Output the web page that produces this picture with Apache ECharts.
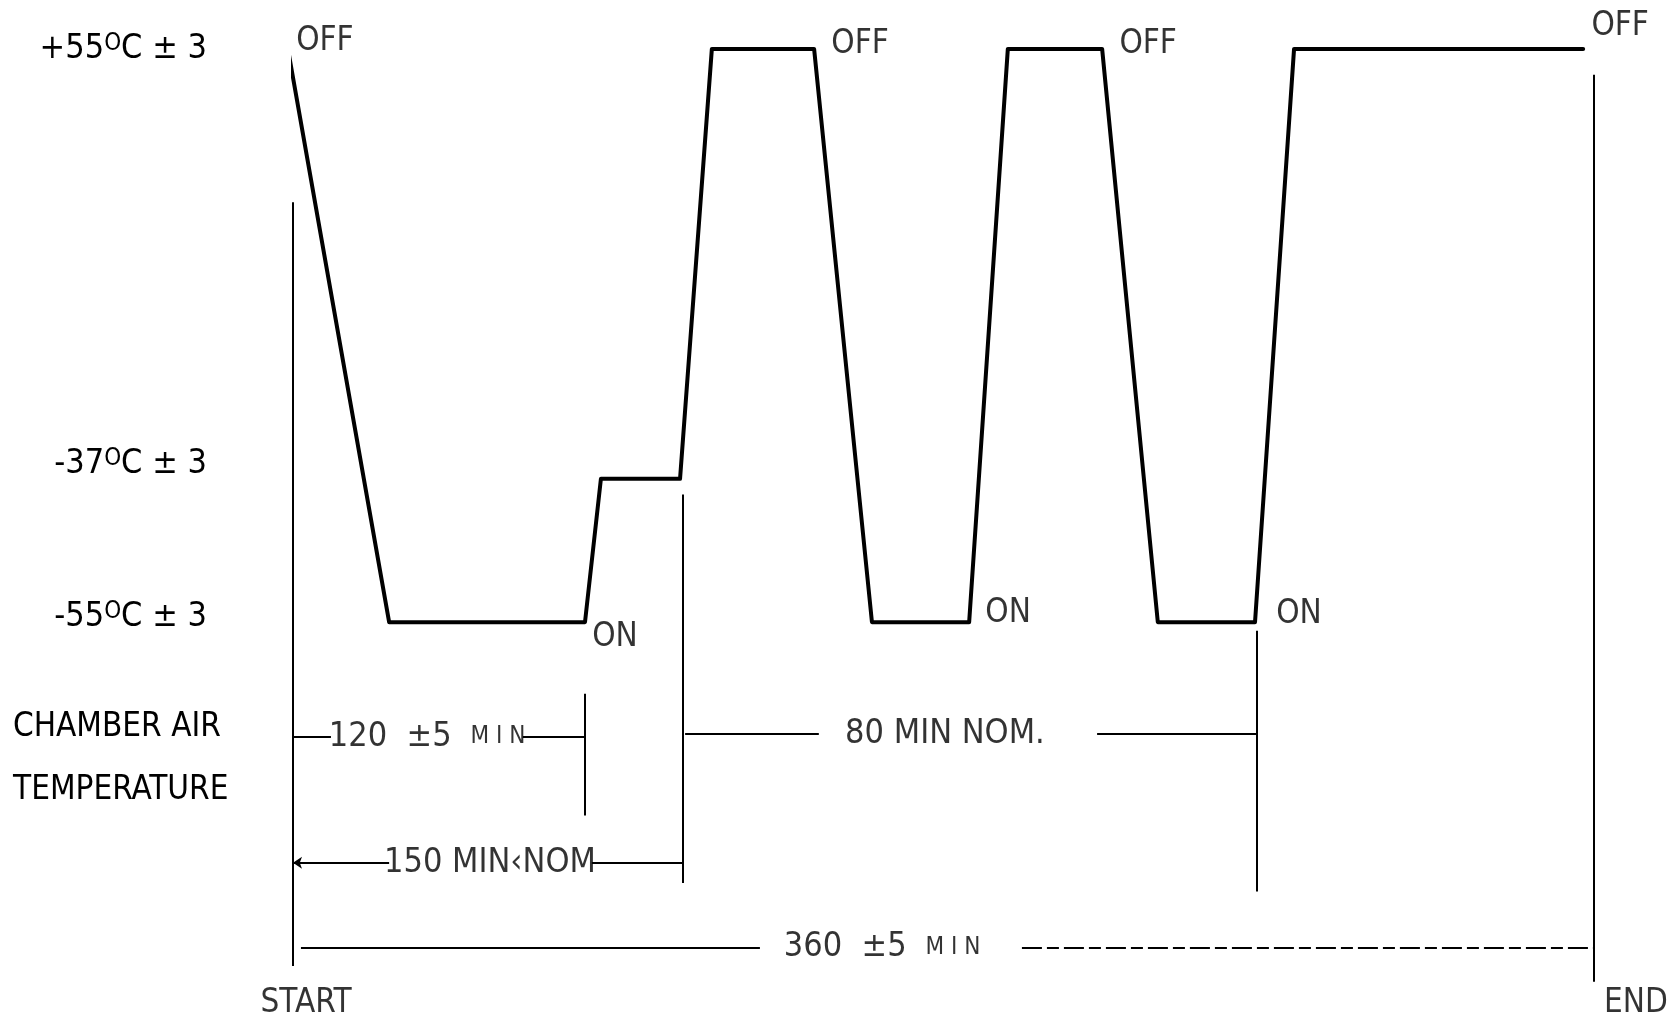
<!DOCTYPE html>
<html>
<head>
<meta charset="utf-8">
<title>Chamber air temperature cycle</title>
<script src="https://cdn.jsdelivr.net/npm/echarts@6.0.0/dist/echarts.min.js"></script>
<style>
  html, body { margin: 0; padding: 0; background: #fff; }
  #chart { width: 1673px; height: 1022px; }
</style>
</head>
<body>
<div id="chart"></div>
<script>
// temperature levels of the drawing, bottom to top (the drawing is not to scale)
const levels = ['-55°C ± 3', '-37°C ± 3', '', '', '+55°C ± 3']

// corners of the profile: minutes from START, level
const profileTime = [-1.4, 26.6, 80.8, 85.2, 107.1, 115.9, 144.2, 160.2, 187.1, 197.8, 223.9, 239.3, 266.2, 277.0, 357.0]
const profileLevel = [
  '+55°C ± 3', '-55°C ± 3', '-55°C ± 3', '-37°C ± 3', '-37°C ± 3',
  '+55°C ± 3', '+55°C ± 3', '-55°C ± 3', '-55°C ± 3', '+55°C ± 3',
  '+55°C ± 3', '-55°C ± 3', '-55°C ± 3', '+55°C ± 3', '+55°C ± 3'
]

// chamber switching, at profile corners
const switchAt = [0, 6, 10, 14, 2, 8, 12]
const switchText = ['OFF', 'OFF', 'OFF', 'OFF', 'ON', 'ON', 'ON']

// time marks (minutes) and dimension notes
const markTime = [0, 80.8, 107.8, 266.8, 360]
const dimText = ['120 ±5 MIN', '150 MIN‹NOM', '80 MIN NOM.', '360 ±5 MIN']

// drawing layout (not data)
const layout = {
  markSpan: [[2.93, -2.40], [-0.50, -1.35], [0.89, -1.82], [-0.06, -1.88], [3.82, -2.51]],
  dimRow: [-0.80, -1.68, -0.78, -2.27],
  dimTextAt: [37.1, 54.5, 180.4, 163.0],
  dimLeft: [[0, 10.5], [0, 26.6], [108.5, 145.5], [2.2, 129.2]],
  dimRight: [[63.6, 80.8], [82.7, 107.8], [222.5, 266.8], [201.7, 360]],
  switchOffset: [[37, -8], [46, -5], [46, -5], [37, -23], [30, 15], [39, -9], [44, -8]],
  endRow: -2.66,
  endOffset: [[13, 0], [42, 0]]
}

const font = "'DejaVu Sans Condensed', 'Liberation Sans Narrow', 'DejaVu Sans', sans-serif"
const ink = '#000'

const chart = echarts.init(document.getElementById('chart'))

const lvl = name => levels.indexOf(name)

const notes = []
switchText.forEach((txt, i) => {
  const k = switchAt[i]
  notes.push({ value: [profileTime[k], lvl(profileLevel[k])], text: txt, off: layout.switchOffset[i] })
})
notes.push({ value: [markTime[0], layout.endRow], text: 'START', off: layout.endOffset[0] })
notes.push({ value: [markTime[4], layout.endRow], text: 'END', off: layout.endOffset[1] })
dimText.forEach((txt, i) => {
  notes.push({ value: [layout.dimTextAt[i], layout.dimRow[i]], text: txt, off: [0, 0] })
})

const dimLabel = txt => {
  // small "MIN" after a tolerance, like the drawing
  if (txt.indexOf('±') >= 0) {
    const p = txt.split(' MIN')
    return '{t|' + p[0].replace(' ', '  ') + '}  {s|M I N}'
  }
  return '{t|' + txt + '}'
}

const option = {
  animation: false,
  backgroundColor: '#fff',
  textStyle: { fontFamily: font, color: ink },
  title: {
    text: 'CHAMBER AIR\nTEMPERATURE',
    left: 8,
    top: 691,
    textStyle: { fontFamily: font, fontSize: 33, fontWeight: 'normal', color: ink, lineHeight: 63 }
  },
  grid: { left: 293, width: 1301, top: 49, height: 960, outerBoundsMode: 'none' },
  xAxis: { type: 'value', min: 0, max: 360, show: false },
  yAxis: {
    type: 'value',
    min: -2.7,
    max: 4,
    splitLine: { show: false },
    axisLine: { show: false },
    axisTick: { show: false },
    axisLabel: {
      customValues: [0, 1, 4],
      margin: 86,
      formatter: v => {
        const s = levels[v]
        if (!s) return ''
        const p = s.split('°')
        const lift = v === 1 ? '\n{gapA|}' : v === 0 ? '\n{gapB|}' : ''
        return '{t|' + p[0] + '}{o|O}{t|' + p[1] + '}' + lift
      },
      rich: {
        t: { fontFamily: font, fontSize: 34, color: ink },
        o: { fontFamily: font, fontSize: 24, color: ink, verticalAlign: 'top' },
        gapA: { height: 30 },
        gapB: { height: 10 }
      }
    }
  },
  series: [
    {
      name: 'profile',
      type: 'line',
      symbol: 'none',
      z: 4,
      data: profileTime.map((t, i) => [t, lvl(profileLevel[i])]),
      lineStyle: { color: ink, width: 4, join: 'round', cap: 'round' }
    },
    {
      name: 'marks',
      type: 'lines',
      coordinateSystem: 'cartesian2d',
      z: 3,
      lineStyle: { color: ink, width: 2, opacity: 1 },
      data: markTime.map((t, i) => ({ coords: [[t, layout.markSpan[i][0]], [t, layout.markSpan[i][1]]] }))
    },
    {
      name: 'dimensions',
      type: 'lines',
      coordinateSystem: 'cartesian2d',
      z: 3,
      lineStyle: { color: ink, width: 2, opacity: 1 },
      data: [0, 2, 3].map(i => ({ coords: [[layout.dimLeft[i][0], layout.dimRow[i]], [layout.dimLeft[i][1], layout.dimRow[i]]] }))
        .concat([0, 1, 2].map(i => ({ coords: [[layout.dimRight[i][0], layout.dimRow[i]], [layout.dimRight[i][1], layout.dimRow[i]]] })))
    },
    {
      name: 'dimension arrow',
      type: 'lines',
      coordinateSystem: 'cartesian2d',
      z: 3,
      symbol: ['arrow', 'none'],
      symbolSize: 9,
      lineStyle: { color: ink, width: 2, opacity: 1 },
      data: [{ coords: [[layout.dimLeft[1][0], layout.dimRow[1]], [layout.dimLeft[1][1], layout.dimRow[1]]] }]
    },
    {
      name: 'dimension dashed',
      type: 'lines',
      coordinateSystem: 'cartesian2d',
      z: 3,
      lineStyle: { color: ink, width: 2, opacity: 1, type: [20, 5, 12, 5] },
      data: [{ coords: [[layout.dimRight[3][0], layout.dimRow[3]], [layout.dimRight[3][1], layout.dimRow[3]]] }]
    },
    {
      name: 'notes',
      type: 'scatter',
      clip: false,
      symbolSize: 1,
      itemStyle: { color: 'rgba(0,0,0,0)' },
      z: 5,
      data: notes.map(n => ({
        value: n.value,
        label: {
          show: true,
          position: 'inside',
          offset: n.off,
          formatter: dimText.indexOf(n.text) >= 0 ? dimLabel(n.text) : n.text,
          fontFamily: font,
          fontSize: 33,
          color: ink,
          rich: {
            t: { fontFamily: font, fontSize: 34, color: ink },
            s: { fontFamily: font, fontSize: 24, color: ink }
          }
        }
      }))
    }
  ]
}

chart.setOption(option)
</script>
</body>
</html>
